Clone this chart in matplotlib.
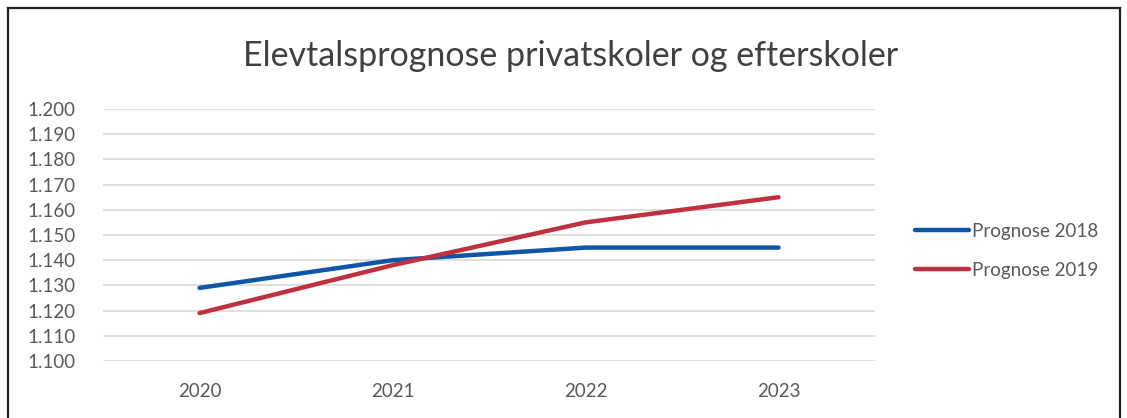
import matplotlib.pyplot as plt
from matplotlib.lines import Line2D
from matplotlib.ticker import FuncFormatter, MultipleLocator

years = ["2020", "2021", "2022", "2023"]
prognose_2018 = [1129, 1140, 1145, 1145]
prognose_2019 = [1119, 1138, 1155, 1165]

plt.rcParams["font.family"] = ["Lato", "DejaVu Sans"]

fig = plt.figure(figsize=(11.27, 4.18), dpi=100)
ax = fig.add_axes([0.0914, 0.1364, 0.685, 0.6028])

x = range(len(years))
ax.plot(x, prognose_2018, color="#0F56A6", lw=3.2, solid_capstyle="round", label="Prognose 2018")
ax.plot(x, prognose_2019, color="#C0313E", lw=3.2, solid_capstyle="round", label="Prognose 2019")

ax.set_xlim(-0.5, 3.5)
ax.set_ylim(1100, 1200)
ax.yaxis.set_major_locator(MultipleLocator(10))
ax.yaxis.set_major_formatter(FuncFormatter(lambda v, p: f"{v:,.0f}".replace(",", ".")))
ax.set_xticks(list(x))
ax.set_xticklabels(years)
ax.grid(axis="y", color="#D9D9D9", lw=1.2)
ax.set_axisbelow(True)
for s in ax.spines.values():
    s.set_visible(False)
ax.tick_params(axis="both", length=0, colors="#595959", labelsize=13.5)
ax.tick_params(axis="y", pad=20)
ax.tick_params(axis="x", pad=16)

fig.text(0.506, 0.865, "Elevtalsprognose privatskoler og efterskoler", ha="center",
         va="center", fontsize=24.5, color="#404040")

fig.legend(loc="center left", bbox_to_anchor=(0.812, 0.4), frameon=False,
           fontsize=13.5, handlelength=2.9, handletextpad=0.15, labelspacing=1.2,
           borderpad=0, borderaxespad=0, labelcolor="#595959")

# frame around the chart (bottom edge is cropped in the original)
for xs, ys in [([0.0075, 0.0075], [0, 0.981]), ([0.0075, 0.9935], [0.981, 0.981]),
               ([0.9935, 0.9935], [0, 0.981])]:
    fig.add_artist(Line2D(xs, ys, color="#222222", lw=1.6))

fig.savefig("out.png", dpi=100)
